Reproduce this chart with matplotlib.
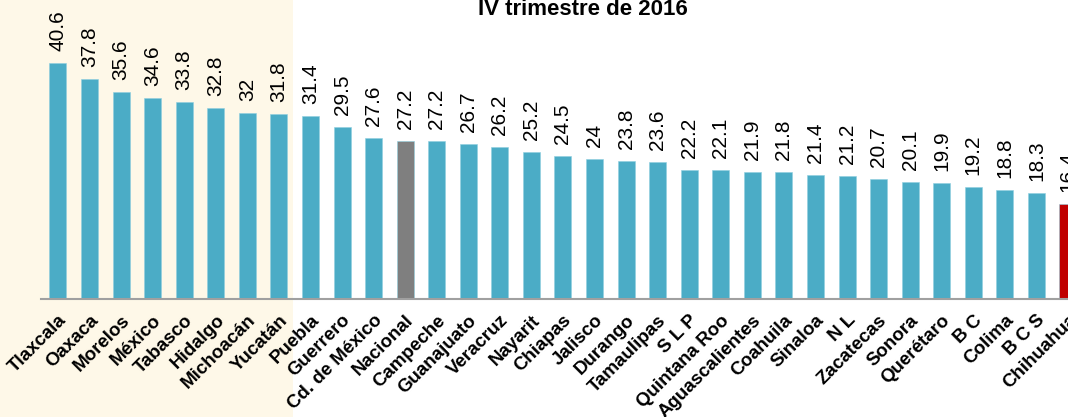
import matplotlib
matplotlib.use("Agg")
import matplotlib.pyplot as plt
from matplotlib.patches import Rectangle

states = ["Tlaxcala", "Oaxaca", "Morelos", "México", "Tabasco", "Hidalgo", "Michoacán",
          "Yucatán", "Puebla", "Guerrero", "Cd. de México", "Nacional", "Campeche",
          "Guanajuato", "Veracruz", "Nayarit", "Chiapas", "Jalisco", "Durango",
          "Tamaulipas", "S L P", "Quintana Roo", "Aguascalientes", "Coahuila", "Sinaloa",
          "N L", "Zacatecas", "Sonora", "Querétaro", "B C", "Colima", "B C S", "Chihuahua"]
values = [40.6, 37.8, 35.6, 34.6, 33.8, 32.8, 32, 31.8, 31.4, 29.5, 27.6, 27.2, 27.2,
          26.7, 26.2, 25.2, 24.5, 24, 23.8, 23.6, 22.2, 22.1, 21.9, 21.8, 21.4, 21.2,
          20.7, 20.1, 19.9, 19.2, 18.8, 18.3, 16.4]
value_labels = ["40.6", "37.8", "35.6", "34.6", "33.8", "32.8", "32", "31.8", "31.4",
                "29.5", "27.6", "27.2", "27.2", "26.7", "26.2", "25.2", "24.5", "24",
                "23.8", "23.6", "22.2", "22.1", "21.9", "21.8", "21.4", "21.2", "20.7",
                "20.1", "19.9", "19.2", "18.8", "18.3", "16.4"]
title = "IV trimestre de 2016"

BLUE = "#4BACC6"
GRAY = "#7F7F7F"
RED = "#C00000"
colors = [GRAY if s == "Nacional" else RED if s == "Chihuahua" else BLUE for s in states]

W, H = 1068, 417
fig = plt.figure(figsize=(W / 100, H / 100), dpi=100)
fig.patch.set_facecolor("white")
fig.patches.append(Rectangle((0, 0), 293 / W, 1, transform=fig.transFigure,
                             facecolor="#FEF8E8", edgecolor="none", zorder=-10))

base_y = 299.3
ax = fig.add_axes([41 / W, 1 - base_y / H, 1 - 41 / W, base_y / H])
ax.set_facecolor("none")
spacing = 31.65
x = list(range(len(states)))
ax.bar(x, values, width=0.54, color=colors, edgecolor="#8FCFE0", linewidth=0.4, zorder=2)
ax.set_xlim((41 - 58) / spacing, (W - 58) / spacing)
scale = 5.83
ax.set_ylim(0, base_y / scale)

for xi, v, lab in zip(x, values, value_labels):
    ax.annotate(lab, (xi, v), xytext=(0, 12), textcoords="offset pixels",
                rotation=90, ha="center", va="bottom", fontsize=15,
                family=["Liberation Sans", "DejaVu Sans"], color="black", annotation_clip=False)

ax.set_xticks(x)
ax.set_xticklabels(states, rotation=45, ha="right", va="top", rotation_mode="anchor",
                   fontsize=13.5, fontweight="bold", family=["Liberation Sans", "DejaVu Sans"])
ax.tick_params(axis="x", length=0, pad=9)
ax.set_yticks([])
for s in ["top", "right", "left"]:
    ax.spines[s].set_visible(False)
ax.spines["bottom"].set_color("#A0A0A0")
ax.spines["bottom"].set_linewidth(1.5)

fig.text(583 / W, 1 - 15 / H, title, ha="center", va="baseline", fontsize=16,
         fontweight="bold", family=["Liberation Sans", "DejaVu Sans"])

fig.savefig("out.png", dpi=100)
